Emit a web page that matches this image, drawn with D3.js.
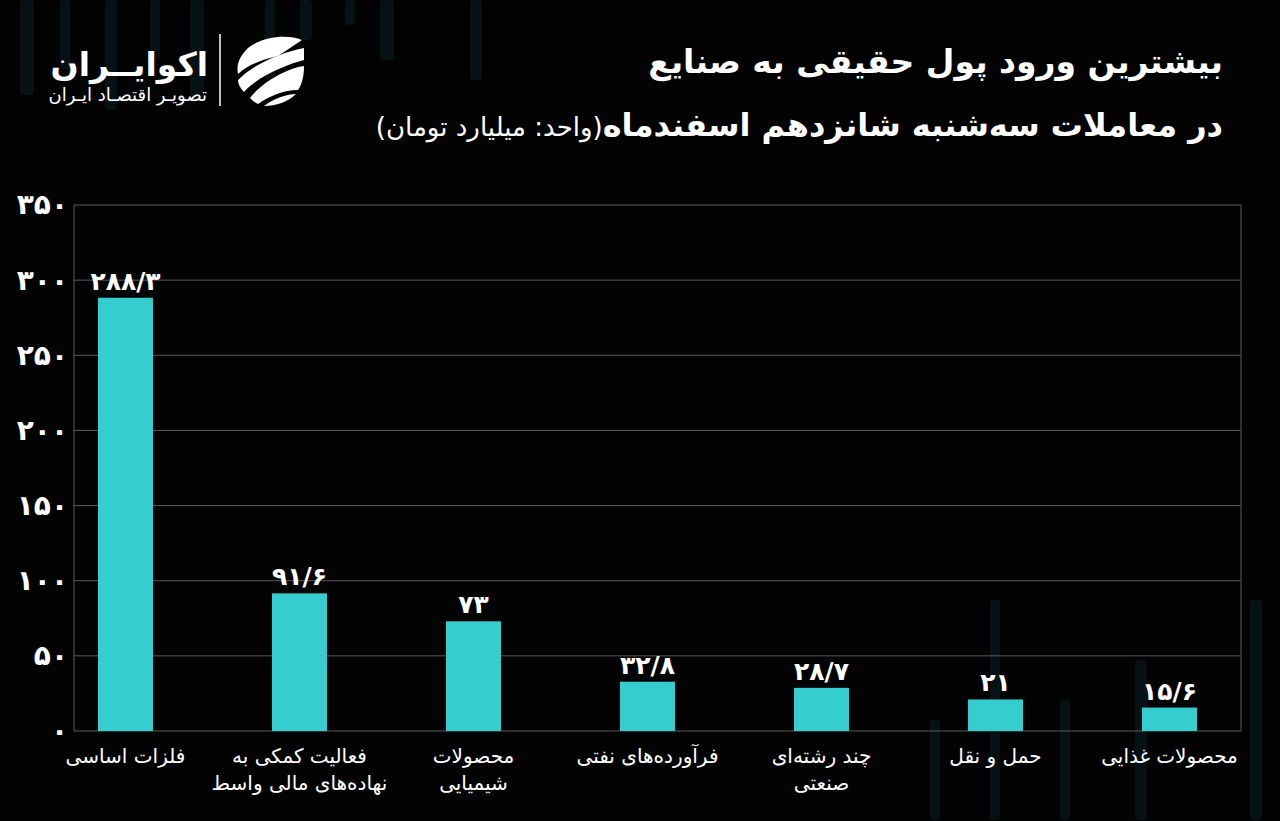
<!DOCTYPE html>
<html>
<head>
<meta charset="utf-8">
<script src="https://cdn.jsdelivr.net/npm/d3@7"></script>
<style>
  body { margin: 0; background: #030303; }
  svg { display: block; }
</style>
</head>
<body>
<div id="chart"></div>
<script>
// data
const categories = [
  ["فلزات اساسی"],
  ["فعالیت کمکی به", "نهاده‌های مالی واسط"],
  ["محصولات", "شیمیایی"],
  ["فرآورده‌های نفتی"],
  ["چند رشته‌ای", "صنعتی"],
  ["حمل و نقل"],
  ["محصولات غذایی"]
];
const values = [288.3, 91.6, 73, 32.8, 28.7, 21, 15.6];
const valueLabels = ["۲۸۸/۳", "۹۱/۶", "۷۳", "۳۲/۸", "۲۸/۷", "۲۱", "۱۵/۶"];
const yTicks = [0, 50, 100, 150, 200, 250, 300, 350];

const width = 1280, height = 821;
const font = "'DejaVu Sans', sans-serif";

const toFa = n => String(n).replace(/\d/g, d => "۰۱۲۳۴۵۶۷۸۹"[d]);

const svg = d3.select("#chart").append("svg")
  .attr("width", width).attr("height", height)
  .style("background", "#030303");

// faint background streaks
const streaks = [[20,0,14,95],[60,0,10,70],[105,0,12,110],[150,0,10,60],[190,0,14,100],[265,0,10,80],[300,0,12,40],[345,0,10,25],[380,0,14,60],[470,0,12,80],[990,600,10,220],[1135,660,12,160],[1250,600,12,220],[1060,700,10,120],[930,720,10,100]];
svg.append("g").selectAll("rect").data(streaks).join("rect")
  .attr("x", d => d[0]).attr("y", d => d[1]).attr("width", d => d[2]).attr("height", d => d[3])
  .attr("rx", 4).attr("fill", "#071216");

const margin = {top: 205, right: 39, bottom: 90, left: 74};
const x = d3.scaleBand()
  .domain(d3.range(values.length))
  .range([98, 1197])
  .paddingInner(0.684)
  .paddingOuter(0);
const y = d3.scaleLinear().domain([0, 350]).range([height - margin.bottom, margin.top]);

// grid
svg.append("g").selectAll("line").data(yTicks).join("line")
  .attr("x1", margin.left).attr("x2", width - margin.right)
  .attr("y1", d => y(d)).attr("y2", d => y(d))
  .attr("stroke", "#5a5a5a").attr("stroke-width", 1);
svg.append("line").attr("x1", margin.left).attr("x2", margin.left)
  .attr("y1", y(350)).attr("y2", y(0)).attr("stroke", "#5a5a5a");
svg.append("line").attr("x1", width - margin.right).attr("x2", width - margin.right)
  .attr("y1", y(350)).attr("y2", y(0)).attr("stroke", "#5a5a5a");

// y axis
const yAxis = svg.append("g")
  .attr("transform", `translate(${margin.left},0)`)
  .call(d3.axisLeft(y).tickValues(yTicks).tickSize(0).tickPadding(6).tickFormat(toFa));
yAxis.select(".domain").remove();
yAxis.selectAll("text")
  .attr("fill", "#fff").attr("font-family", font).attr("font-weight", "bold").attr("font-size", 28);

// bars
svg.append("g").attr("fill", "#35cdcd")
  .selectAll("rect").data(values).join("rect")
  .attr("x", (d, i) => x(i))
  .attr("y", d => y(d))
  .attr("width", x.bandwidth())
  .attr("height", d => y(0) - y(d));

// value labels
svg.append("g").selectAll("text").data(values).join("text")
  .attr("x", (d, i) => x(i) + x.bandwidth() / 2)
  .attr("y", d => y(d) - 8)
  .attr("text-anchor", "middle")
  .attr("fill", "#fff").attr("font-family", font).attr("font-weight", "bold").attr("font-size", 25)
  .text((d, i) => valueLabels[i]);

// category labels
const cat = svg.append("g").selectAll("text").data(categories).join("text")
  .attr("x", (d, i) => x(i) + x.bandwidth() / 2)
  .attr("y", y(0) + 32)
  .attr("text-anchor", "middle").attr("direction", "rtl")
  .attr("fill", "#fff").attr("font-family", font).attr("font-size", 20);
cat.selectAll("tspan").data(d => d).join("tspan")
  .attr("x", function() { return this.parentNode.getAttribute("x"); })
  .attr("dy", (d, j) => j === 0 ? 0 : 27)
  .text(d => d);

// titles
svg.append("text").attr("x", 1223).attr("y", 73)
  .attr("text-anchor", "start").attr("direction", "rtl")
  .attr("fill", "#fff").attr("font-family", font).attr("font-weight", "bold").attr("font-size", 33)
  .text("بیشترین ورود پول حقیقی به صنایع");
const t2 = svg.append("text").attr("x", 1223).attr("y", 136)
  .attr("text-anchor", "start").attr("direction", "rtl")
  .attr("fill", "#fff").attr("font-family", font);
t2.append("tspan").attr("font-weight", "bold").attr("font-size", 32).text("در معاملات سه‌شنبه شانزدهم  اسفندماه");
t2.append("tspan").attr("font-size", 26).text("(واحد: میلیارد تومان)");

// logo
const logo = svg.append("g");
logo.append("text").attr("x", 208).attr("y", 76).attr("text-anchor", "end")
  .attr("fill", "#fff").attr("font-family", font).attr("font-weight", "bold").attr("font-size", 33)
  .text("اکوایــران");
logo.append("text").attr("x", 207).attr("y", 101).attr("text-anchor", "end")
  .attr("fill", "#fff").attr("font-family", font).attr("font-size", 18)
  .text("تصویـر اقتصـاد ایـران");
logo.append("line").attr("x1", 220).attr("x2", 220).attr("y1", 34).attr("y2", 106)
  .attr("stroke", "#fff").attr("stroke-width", 1.5);
const icon = logo.append("g").attr("transform", "translate(268,70)").attr("fill", "#fff");
icon.append("path").attr("d", "M-20,-22 C-5,-34 20,-36 34,-30 L10,-14 C0,-12 -20,-6 -30,4 C-32,-6 -28,-14 -20,-22 Z");
icon.append("path").attr("d", "M-30,10 C-15,-6 15,-18 36,-22 L36,-10 C20,-6 -10,6 -24,22 C-28,18 -30,14 -30,10 Z");
icon.append("path").attr("d", "M-18,28 C-6,12 20,-2 36,-4 C36,6 34,14 30,20 C14,20 -2,28 -10,34 C-14,32 -16,30 -18,28 Z");
icon.append("path").attr("d", "M-4,36 C6,28 20,24 28,24 C20,32 8,36 -4,36 Z");
</script>
</body>
</html>
